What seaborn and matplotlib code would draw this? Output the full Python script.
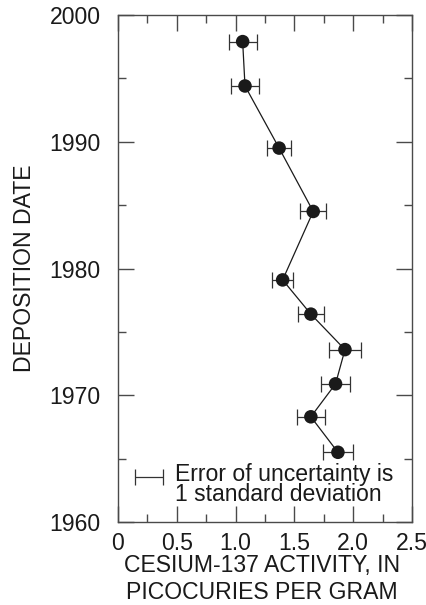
import matplotlib
matplotlib.use("Agg")
import matplotlib.pyplot as plt
from matplotlib.ticker import MultipleLocator
import numpy as np
import pandas as pd
import seaborn as sns

# Cesium-137 activity profile by deposition date
years = [1997.9, 1994.4, 1989.5, 1984.5, 1979.1, 1976.4, 1973.6, 1970.9, 1968.3, 1965.5]
activity = [1.06, 1.08, 1.37, 1.66, 1.40, 1.64, 1.93, 1.85, 1.64, 1.87]
uncertainty = [0.12, 0.12, 0.10, 0.11, 0.09, 0.11, 0.14, 0.12, 0.12, 0.13]

x_ticks = [0, 0.5, 1.0, 1.5, 2.0, 2.5]
x_tick_labels = ["0", "0.5", "1.0", "1.5", "2.0", "2.5"]
y_ticks = [1960, 1970, 1980, 1990, 2000]

df = pd.DataFrame({"year": years, "activity": activity, "err": uncertainty})

sns.set_theme(style="ticks")
plt.rcParams["font.family"] = ["Liberation Sans", "DejaVu Sans"]

FS = 16.6
EDGE = "#4a4a4a"
INK = "#1a1a1a"

fig = plt.figure(figsize=(4.27, 6.05), dpi=100)
ax = fig.add_axes([118 / 427, 1 - 522 / 605, 294 / 427, 507 / 605])

# connecting line, in depth (date) order
sns.lineplot(data=df, x="activity", y="year", sort=False, estimator=None,
             color=INK, linewidth=0.9, ax=ax, zorder=2)
# one-sigma error bars
ax.errorbar(df["activity"], df["year"], xerr=df["err"], fmt="none",
            ecolor="#333333", elinewidth=0.9, capsize=5.6, capthick=0.9, zorder=2)
# sample points
sns.scatterplot(data=df, x="activity", y="year", s=95, color=INK,
                edgecolor="none", ax=ax, zorder=3)

# key for the error bars
ax.errorbar([0.2625], [1963.57], xerr=[0.12], fmt="none", ecolor="#333333",
            elinewidth=0.9, capsize=5.6, capthick=0.9)
ax.text(0.486, 1961.68, "Error of uncertainty is\n1 standard deviation",
        fontsize=FS, va="baseline", ha="left", color=INK, linespacing=0.8)

ax.set_xlim(0, 2.5)
ax.set_ylim(1960, 2000)
ax.set_xticks(x_ticks)
ax.set_xticklabels(x_tick_labels)
ax.set_yticks(y_ticks)
ax.xaxis.set_minor_locator(MultipleLocator(0.25))
ax.yaxis.set_minor_locator(MultipleLocator(5))

ax.tick_params(which="both", direction="in", top=True, right=True,
               color=EDGE, width=1.0, labelsize=FS, labelcolor=INK)
ax.tick_params(which="major", length=11.5)
ax.tick_params(which="minor", length=6)
ax.tick_params(axis="y", which="major", pad=12.5)
ax.tick_params(axis="x", which="major", pad=7.5)

for s in ax.spines.values():
    s.set_visible(True)
    s.set_color(EDGE)
    s.set_linewidth(1.0)

ax.set_xlabel("CESIUM-137 ACTIVITY, IN\nPICOCURIES PER GRAM", fontsize=FS,
              linespacing=1.18, color=INK)
ax.set_ylabel("DEPOSITION DATE", fontsize=FS, color=INK)
ax.yaxis.set_label_coords(-0.28, 0.5)
ax.xaxis.set_label_coords(0.49, -0.064)
ax.xaxis.label.set_va("top")

fig.savefig("out.png", dpi=100)
